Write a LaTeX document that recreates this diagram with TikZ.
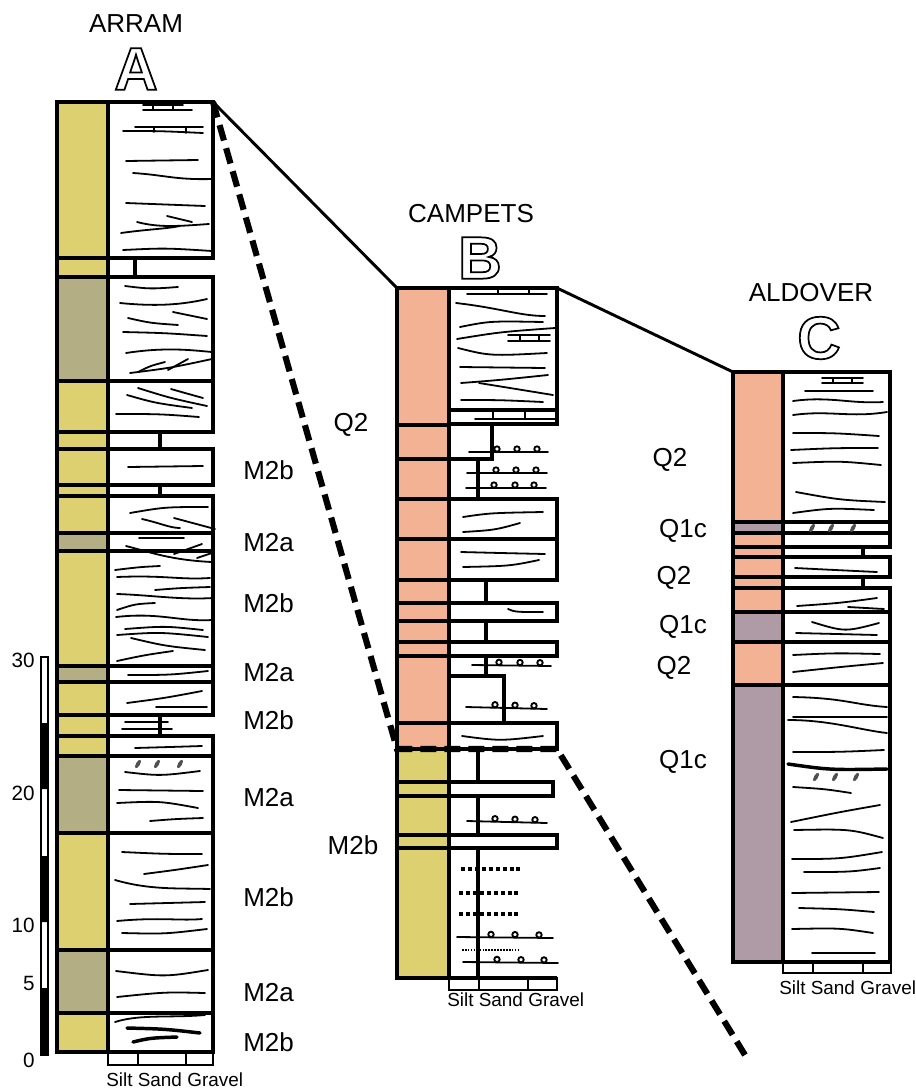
\documentclass[tikz,border=0pt]{standalone}
\usepackage{fontspec}
\setmainfont{Liberation Sans}
\definecolor{yel}{HTML}{DCD070}
\definecolor{oli}{HTML}{B4AE84}
\definecolor{sal}{HTML}{F4B294}
\definecolor{mau}{HTML}{AE9BA6}
\definecolor{pebc}{HTML}{505050}
\newcommand\strat[6]{\draw[box,fill=#6] (#1,#3) rectangle (#2,#4); \draw[box] (#2,#3) rectangle (#5,#4);}
\newcommand\strip[5]{\draw[box,fill=#5] (#1,#3) rectangle (#2,#4);}
\newcommand\lith[4]{\draw[box] (#1,#2) rectangle (#4,#3);}
\newcommand\rpeb[2]{\draw[rpebble] (#1,#2) circle (2.7);}
\newcommand\epeb[2]{\fill[pebc, rotate around={60:(#1,#2)}] (#1,#2) ellipse (4.8 and 2);}
\newcommand\outl[1]{\special{pdf:literal q 1 Tr 1.3 w 0 G}#1\special{pdf:literal Q}}
\begin{document}
\begin{tikzpicture}[x=0.75pt,y=-0.75pt,
  box/.style={line width=2.9pt, line join=miter},
  sed/.style={line width=1.35pt, line cap=round},
  tsed/.style={line width=2.6pt, line cap=round},
  gs/.style={line width=1.2pt},
  conn/.style={line width=2.2pt},
  dconn/.style={line width=4.6pt, dash pattern=on 12pt off 6pt},
  thdot/.style={line width=2.5pt, dash pattern=on 3.2pt off 2pt},
  tndot/.style={line width=1pt, dash pattern=on 1.2pt off 1pt},
  rpebble/.style={line width=1.4pt, fill=white},
  lab/.style={font=\fontsize{19.5}{21}\selectfont, inner sep=0pt},
  title/.style={font=\fontsize{19.5}{21}\selectfont, inner sep=0pt},
  big/.style={font=\fontsize{45}{47}\selectfont\bfseries, inner sep=0pt},
  grain/.style={font=\fontsize{14.2}{15}\selectfont, inner sep=0pt, anchor=west},
  num/.style={font=\fontsize{15.5}{16}\selectfont, inner sep=0pt, anchor=east}]
\useasboundingbox (0,0) rectangle (915,1090);

% ---------------- Column A ----------------
\strat{57}{108}{102}{258}{213}{yel}
\strat{57}{108}{258}{277}{135}{yel}
\strat{57}{108}{277}{381}{213}{oli}
\strat{57}{108}{381}{432}{213}{yel}
\strat{57}{108}{432}{449}{160}{yel}
\strat{57}{108}{449}{485}{213}{yel}
\strat{57}{108}{485}{496}{160}{yel}
\strat{57}{108}{496}{533}{213}{yel}
\strat{57}{108}{533}{551}{213}{oli}
\strat{57}{108}{551}{666}{213}{yel}
\strat{57}{108}{666}{682}{213}{oli}
\strat{57}{108}{682}{715}{213}{yel}
\strat{57}{108}{715}{736}{160}{yel}
\strat{57}{108}{736}{756}{213}{yel}
\strat{57}{108}{756}{833}{213}{oli}
\strat{57}{108}{833}{950}{213}{yel}
\strat{57}{108}{950}{1013}{213}{oli}
\strat{57}{108}{1013}{1052}{213}{yel}
\draw[gs] (108,1052) rectangle (213,1065) (138,1052)--(138,1065) (186,1052)--(186,1065);

% A structures
\draw[sed] (143,105)--(183,105) (143,110)--(192,110) (153,103)--(153,110) (173,103)--(173,110);
\draw[sed] (135,127)--(203,127) (154,127)--(154,132) (186,127)--(186,133);
\draw[sed] (123,131) .. controls (160,131) .. (203,133);
\draw[sed] (126,161)--(198,160);
\draw[sed] (133,173) .. controls (165,175) and (175,180) .. (212,179);
\draw[sed] (126,203) .. controls (165,204) .. (205,206);
\draw[sed] (167,216)--(192,222);
\draw[sed] (137,222) .. controls (160,228) and (180,226) .. (209,224);
\draw[sed] (121,233) .. controls (150,229) and (165,229) .. (180,226);
\draw[sed] (123,250) .. controls (165,248) .. (212,251);
\draw[sed] (125,286) .. controls (150,289) .. (178,287);
\draw[sed] (120,303) .. controls (160,307) and (185,304) .. (207,299);
\draw[sed] (173,312)--(207,319);
\draw[sed] (128,318) .. controls (150,323) .. (178,325);
\draw[sed] (123,332) .. controls (165,333) .. (207,336);
\draw[sed] (126,353) .. controls (165,347) and (190,350) .. (212,352);
\draw[sed] (138,372) .. controls (150,366) .. (165,362);
\draw[sed] (168,370) .. controls (178,364) .. (188,359);
\draw[sed] (130,373) .. controls (170,368) .. (212,359);
\draw[sed] (127,395) .. controls (155,403) .. (192,408);
\draw[sed] (138,388) .. controls (170,398) .. (207,406);
\draw[sed] (171,389) .. controls (185,393) .. (203,398);
\draw[sed] (116,414) .. controls (160,414) .. (199,417);
\draw[sed] (128,467)--(203,466);
\draw[sed] (130,513) .. controls (165,507) .. (208,507);
\draw[sed] (142,519) .. controls (160,523) and (170,528) .. (180,528);
\draw[sed] (174,518) .. controls (195,523) .. (215,529);
\draw[sed] (139,538)--(184,538);
\draw[sed] (126,546) .. controls (150,552) and (170,560) .. (212,562);
\draw[sed] (174,554)--(202,544);
\draw[sed] (197,558)--(212,553);
\draw[sed] (115,570) .. controls (140,567) .. (160,566);
\draw[sed] (117,577) .. controls (165,575) and (180,580) .. (210,578);
\draw[sed] (155,590) .. controls (180,588) .. (210,587);
\draw[sed] (117,594) .. controls (150,595) and (180,600) .. (213,598);
\draw[sed] (117,610) .. controls (135,604) .. (155,603);
\draw[sed] (116,617) .. controls (160,612) and (180,622) .. (212,620);
\draw[sed] (125,629) .. controls (165,626) .. (203,630);
\draw[sed] (117,635) .. controls (160,632) .. (208,637);
\draw[sed] (131,638) .. controls (165,646) .. (205,650);
\draw[sed] (117,661) .. controls (145,655) .. (173,651);
\draw[sed] (128,675) .. controls (170,675) .. (208,671);
\draw[sed] (127,703) .. controls (165,698) .. (202,691);
\draw[sed] (156,707)--(207,707);
\draw[sed] (125,722)--(168,722) (122,729)--(172,729);
\draw[sed] (135,748) .. controls (170,747) .. (202,746);
\epeb{138}{764}\epeb{157}{764}\epeb{180}{764}
\draw[sed] (125,772) .. controls (160,776) .. (200,771);
\draw[sed] (119,790)--(203,791);
\draw[sed] (117,803) .. controls (160,801) .. (198,808);
\draw[sed] (150,821) .. controls (175,819) .. (203,818);
\draw[sed] (122,852) .. controls (165,854) .. (202,854);
\draw[sed] (144,874) .. controls (175,870) .. (208,865);
\draw[sed] (115,880) .. controls (150,890) and (175,888) .. (210,889);
\draw[sed] (130,904)--(205,902);
\draw[sed] (117,921) .. controls (160,917) and (180,921) .. (202,919);
\draw[sed] (122,933) .. controls (165,934) .. (207,929);
\draw[sed] (116,971) .. controls (165,977) .. (208,970);
\draw[sed] (117,997) .. controls (165,992) .. (205,993);
\draw[sed] (115,1022) .. controls (140,1014) and (170,1018) .. (205,1015);
\draw[tsed] (127,1028) .. controls (165,1029) .. (200,1033);
\draw[tsed] (133,1042) .. controls (150,1038) .. (177,1037);

% scale bar
\fill[black] (41,723) rectangle (48,789) (41,856) rectangle (48,922) (41,988) rectangle (48,1055);
\draw[line width=0.8pt] (41,657) rectangle (48,1055);
\node[num] (n30) at (35,660) {30};
\node[num] (n20) at (35,793) {20};
\node[num] (n10) at (35,925) {10};
\node[num] (n5) at (35,983) {5};
\node[num] (n0) at (35,1060) {0};

% ---------------- Column B ----------------
\strip{397}{449}{288}{425}{sal}
\strip{397}{449}{425}{459}{sal}
\strip{397}{449}{459}{499}{sal}
\strip{397}{449}{499}{539}{sal}
\strip{397}{449}{539}{580}{sal}
\strip{397}{449}{580}{603}{sal}
\strip{397}{449}{603}{621}{sal}
\strip{397}{449}{621}{642}{sal}
\strip{397}{449}{642}{656}{sal}
\strip{397}{449}{656}{723}{sal}
\strip{397}{449}{723}{749}{sal}
\strip{397}{449}{749}{782}{yel}
\strip{397}{449}{782}{796}{yel}
\strip{397}{449}{796}{835}{yel}
\strip{397}{449}{835}{848}{yel}
\strip{397}{449}{848}{978}{yel}
\lith{449}{288}{410}{557}
\lith{449}{410}{424}{557}
\lith{449}{424}{459}{492}
\lith{449}{459}{499}{478}
\lith{449}{499}{539}{557}
\lith{449}{539}{580}{557}
\lith{449}{580}{603}{486}
\lith{449}{603}{621}{557}
\lith{449}{621}{642}{486}
\lith{449}{642}{656}{557}
\lith{449}{656}{676}{486}
\lith{449}{676}{723}{504}
\lith{449}{723}{749}{557}
\lith{449}{749}{782}{478}
\lith{449}{782}{796}{553}
\lith{449}{796}{835}{478}
\lith{449}{835}{848}{557}
\lith{449}{848}{978}{478}
\draw[box] (397,978)--(557,978);
\draw[gs] (449,978) rectangle (557,990) (479,978)--(479,990) (528,978)--(528,990);

% B structures
\draw[sed] (467,294)--(547,294) (498,289)--(498,294) (529,289)--(529,294);
\draw[sed] (456,303) .. controls (500,308) and (520,316) .. (545,316);
\draw[sed] (460,327) .. controls (490,321) .. (543,322);
\draw[sed] (457,339) .. controls (500,332) .. (555,328);
\draw[sed] (508,335)--(550,335) (508,341)--(550,341) (520,335)--(520,341) (539,335)--(539,341);
\draw[sed] (458,348) .. controls (490,356) .. (547,353);
\draw[sed] (460,367)--(545,368);
\draw[sed] (461,383) .. controls (500,380) .. (548,375);
\draw[sed] (479,383) .. controls (510,388) .. (553,395);
\draw[sed] (461,400) .. controls (500,400) .. (543,402);
\draw[sed] (475,419)--(555,419) (493,410)--(493,419) (525,410)--(525,419);
\draw[sed] (469,452)--(548,452);
\rpeb{497}{449}\rpeb{517}{449}\rpeb{537}{449}
\draw[sed] (467,473)--(547,473);
\rpeb{496}{470}\rpeb{516}{470}\rpeb{536}{470}
\draw[sed] (466,488)--(546,488);
\rpeb{494}{485}\rpeb{515}{485}\rpeb{534}{485}
\draw[sed] (463,517) .. controls (490,513) .. (543,512);
\draw[sed] (463,532) .. controls (495,530) .. (520,523);
\draw[sed] (461,552) .. controls (500,553) .. (545,554);
\draw[sed] (463,567) .. controls (510,566) .. (539,560);
\draw[sed] (508,609) .. controls (515,612) .. (543,612);
\draw[sed] (472,665)--(551,666);
\rpeb{499}{662.3}\rpeb{520}{662.5}\rpeb{540}{662.7}
\draw[sed] (466,707)--(547,709);
\rpeb{495}{704.7}\rpeb{515}{705.2}\rpeb{534}{705.7}
\draw[sed] (462,736) .. controls (500,741) .. (543,736);
\draw[sed] (467,821)--(547,823);
\rpeb{495}{818.7}\rpeb{515}{819.2}\rpeb{535}{819.7}
\draw[thdot] (461,869)--(520,869);
\draw[thdot] (459,893)--(518,893);
\draw[thdot] (459,914)--(518,914);
\draw[sed] (457,937)--(553,938);
\rpeb{491}{934.4}\rpeb{515}{934.6}\rpeb{539}{934.9}
\draw[tndot] (462,950)--(520,950);
\draw[sed] (463,962)--(558,963);
\rpeb{497}{959.4}\rpeb{521}{959.7}\rpeb{544}{959.9}

% ---------------- Column C ----------------
\strat{733}{783}{372}{522}{890}{sal}
\strat{733}{783}{522}{533}{890}{mau}
\strat{733}{783}{533}{547}{890}{sal}
\strat{733}{783}{547}{557}{863}{sal}
\strat{733}{783}{557}{577}{890}{sal}
\strat{733}{783}{577}{588}{863}{sal}
\strat{733}{783}{588}{612}{890}{sal}
\strat{733}{783}{612}{642}{890}{mau}
\strat{733}{783}{642}{685}{890}{sal}
\strat{733}{783}{685}{962}{890}{mau}
\draw[gs] (783,962) rectangle (891,973) (813,962)--(813,973) (863,962)--(863,973);

% C structures
\draw[sed] (822,378)--(863,378) (822,383)--(863,383) (833,378)--(833,383) (852,378)--(852,383);
\draw[sed] (805,391)--(873,391);
\draw[sed] (793,401) .. controls (830,396) and (850,404) .. (883,402);
\draw[sed] (793,415) .. controls (830,410) and (850,418) .. (887,412);
\draw[sed] (793,433) .. controls (835,433) .. (879,436);
\draw[sed] (791,450) .. controls (835,448) .. (878,448);
\draw[sed] (793,463) .. controls (840,461) .. (881,465);
\draw[sed] (796,492) .. controls (840,500) .. (885,502);
\draw[sed] (793,513) .. controls (830,508) .. (874,510);
\epeb{812}{528}\epeb{831}{528}\epeb{853}{528}
\draw[sed] (795,568) .. controls (835,570) .. (877,572);
\draw[sed] (797,606) .. controls (840,603) .. (877,598);
\draw[sed] (848,607)--(884,609);
\draw[sed] (812,622) .. controls (845,632) .. (879,623);
\draw[sed] (796,633)--(877,635);
\draw[sed] (793,655) .. controls (835,653) .. (880,654);
\draw[sed] (793,672) .. controls (840,667) .. (883,663);
\draw[sed] (793,697) .. controls (845,698) and (855,705) .. (887,707);
\draw[sed] (793,717)--(887,717);
\draw[sed] (788,720) .. controls (830,720) and (860,730) .. (887,733);
\draw[sed] (793,752) .. controls (840,752) .. (884,750);
\draw[tsed] (788,764) .. controls (830,770) .. (887,769);
\epeb{816}{777}\epeb{835}{777}\epeb{856}{777}
\draw[sed] (793,787) .. controls (825,789) .. (851,793);
\draw[sed] (791,822) .. controls (840,812) .. (880,805);
\draw[sed] (794,830) .. controls (850,829) .. (883,838);
\draw[sed] (792,859) .. controls (840,859) .. (882,852);
\draw[sed] (804,872) .. controls (850,872) .. (880,868);
\draw[sed] (792,893)--(879,892);
\draw[sed] (799,908) .. controls (840,909) .. (874,912);
\draw[sed] (792,929) .. controls (840,928) .. (873,933);
\draw[sed] (812,953)--(875,953);

% ---------------- Titles and labels ----------------
\node[title] (tA) at (136,24) {ARRAM};
\node[big] (bA) at (136,69) {\outl{A}};
\node[title] (tB) at (471,214) {CAMPETS};
\node[big] (bB) at (480,258) {\outl{B}};
\node[title] (tC) at (811,293) {ALDOVER};
\node[big] (bC) at (819,338) {\outl{C}};

\node[lab,anchor=west] (a1) at (243,470) {M2b};
\node[lab,anchor=west] (a2) at (243,543) {M2a};
\node[lab,anchor=west] (a3) at (243,603) {M2b};
\node[lab,anchor=west] (a4) at (243,673) {M2a};
\node[lab,anchor=west] (a5) at (243,720) {M2b};
\node[lab,anchor=west] (a6) at (243,798) {M2a};
\node[lab,anchor=west] (a7) at (243,897) {M2b};
\node[lab,anchor=west] (a8) at (243,993) {M2a};
\node[lab,anchor=west] (a9) at (243,1042) {M2b};

\node[lab] (b1) at (351,425) {Q2};
\node[lab] (b2) at (353,845) {M2b};

\node[lab] (c1) at (670,460) {Q2};
\node[lab] (c2) at (683,531) {Q1c};
\node[lab] (c3) at (674,578) {Q2};
\node[lab] (c4) at (683,627) {Q1c};
\node[lab] (c5) at (674,668) {Q2};
\node[lab] (c6) at (683,762) {Q1c};

\node[grain] (gA) at (106,1080) {Silt Sand Gravel};
\node[grain] (gB) at (447,1000) {Silt Sand Gravel};
\node[grain] (gC) at (779,988) {Silt Sand Gravel};

% ---------------- Correlation lines ----------------
\coordinate (Atr) at (213,102);
\coordinate (Btl) at (397,288);
\coordinate (Btr) at (557,288);
\coordinate (Ctl) at (733,372);
\coordinate (Bdl) at (397,749);
\coordinate (Bdr) at (557,749);
\coordinate (Dend) at (745,1055);
\draw[conn] (Atr) -- (Btl);
\draw[conn] (Btr) -- (Ctl);
\draw[dconn] (Atr) -- (Bdl) -- (Bdr) -- (Dend);
\end{tikzpicture}
\end{document}
